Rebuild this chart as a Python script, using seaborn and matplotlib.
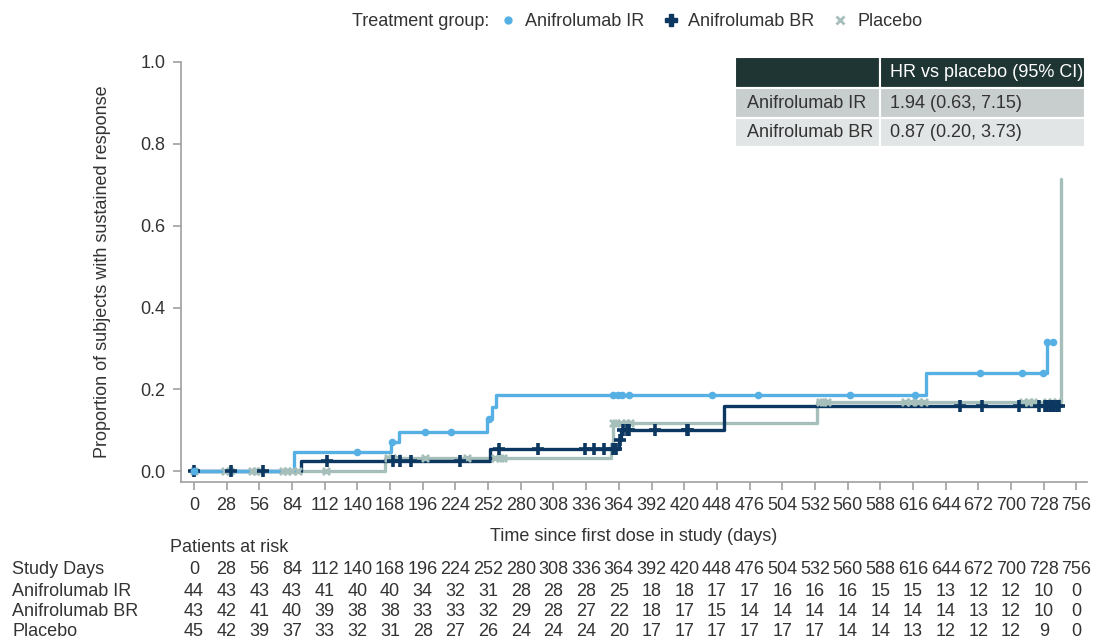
import numpy as np
import pandas as pd
import seaborn as sns
import matplotlib.pyplot as plt
from matplotlib.lines import Line2D
from matplotlib.patches import Rectangle
from matplotlib.transforms import blended_transform_factory

# step curves (day of event, cumulative proportion after it)
ir_time = [0, 86, 169, 176, 251, 255, 259, 627, 731, 738]
ir_prop = [0, 0.047, 0.072, 0.096, 0.127, 0.157, 0.186, 0.240, 0.316, 0.316]
ir_cens = [0, 140, 170, 198, 220, 253, 359, 363, 367, 373, 444, 483, 562, 618,
           673, 709, 727, 731, 736]

br_time = [0, 92, 254, 364, 366, 454, 742]
br_prop = [0, 0.025, 0.054, 0.076, 0.100, 0.160, 0.160]
br_cens = [0, 32, 59, 114, 171, 177, 186, 228, 261, 295, 335, 343, 351, 359,
           362, 365, 368, 371, 373, 395, 422, 423, 656, 675, 707, 724, 729,
           731, 733, 735, 737, 739, 741]

pl_time = [0, 164, 357, 359, 534, 743]
pl_prop = [0, 0.032, 0.068, 0.117, 0.169, 0.714]
pl_cens = [0, 27, 31, 50, 53, 57, 76, 80, 84, 89, 113, 166, 170, 174, 198, 234,
           258, 262, 265, 359, 362, 366, 370, 374, 536, 539, 542, 609, 614,
           620, 625, 710, 715, 719, 731, 735, 739]

groups = ["Anifrolumab IR", "Anifrolumab BR", "Placebo"]
colors = {"Anifrolumab IR": "#56b0e4", "Anifrolumab BR": "#0c3760", "Placebo": "#a6bfba"}

# hazard ratio table
hr_header = "HR vs placebo (95% CI)"
hr_rows = ["Anifrolumab IR", "Anifrolumab BR"]
hr_vals = ["1.94 (0.63, 7.15)", "0.87 (0.20, 3.73)"]

# patients at risk
risk_days = list(range(0, 757, 28))
risk_ir = [44, 43, 43, 43, 41, 40, 40, 34, 32, 31, 28, 28, 28, 25, 18, 18, 17, 17, 16, 16, 16, 15, 15, 13, 12, 12, 10, 0]
risk_br = [43, 42, 41, 40, 39, 38, 38, 33, 33, 32, 29, 28, 27, 22, 18, 17, 15, 14, 14, 14, 14, 14, 14, 14, 13, 12, 10, 0]
risk_pl = [45, 42, 39, 37, 33, 32, 31, 28, 27, 26, 24, 24, 24, 20, 17, 17, 17, 17, 17, 17, 14, 14, 13, 12, 12, 12, 9, 0]

sns.set_style("ticks")
plt.rcParams["font.family"] = ["Liberation Sans", "DejaVu Sans"]
txt = "#333333"
grey = "#a0a0a0"

curves = {
    "Anifrolumab IR": (ir_time, ir_prop, ir_cens),
    "Anifrolumab BR": (br_time, br_prop, br_cens),
    "Placebo": (pl_time, pl_prop, pl_cens),
}
steps = pd.concat([pd.DataFrame({"day": t, "prop": p, "group": g})
                   for g, (t, p, c) in curves.items()])

fig = plt.figure(figsize=(10.95, 6.41), dpi=100)
ax = fig.add_axes([181 / 1095, 1 - 482 / 641, 906 / 1095, 420 / 641])

order = ["Placebo", "Anifrolumab BR", "Anifrolumab IR"]
marks = {"Anifrolumab IR": dict(marker="o", s=30, linewidth=0),
         "Anifrolumab BR": dict(marker="+", s=70, linewidth=2.6),
         "Placebo": dict(marker="x", s=26, linewidth=2.0)}
for g in order:
    t, p, c = curves[g]
    sns.lineplot(data=steps[steps.group == g], x="day", y="prop", color=colors[g],
                 drawstyle="steps-post", estimator=None, sort=False, lw=2.4, ax=ax)
    idx = np.searchsorted(t, c, side="right") - 1
    cy = np.array(p)[idx]
    sns.scatterplot(x=c, y=cy, color=colors[g], ax=ax, zorder=3, **marks[g])

ax.set_xlim(-11, 765)
ax.set_ylim(-0.026, 1.0)
ax.set_xticks(risk_days)
ax.set_yticks([0, 0.2, 0.4, 0.6, 0.8, 1.0])
ax.set_yticklabels(["0.0", "0.2", "0.4", "0.6", "0.8", "1.0"])
ax.tick_params(labelsize=13, colors=grey, labelcolor=txt, length=6, width=1.2, pad=5)
for s in ["top", "right"]:
    ax.spines[s].set_visible(False)
for s in ["left", "bottom"]:
    ax.spines[s].set_color(grey)
    ax.spines[s].set_linewidth(1.2)
ax.set_xlabel("Time since first dose in study (days)", fontsize=13, color=txt, labelpad=10)
ax.set_ylabel("Proportion of subjects with sustained response", fontsize=13, color=txt, labelpad=21)

# legend across the top
fig.text(352 / 1095, 1 - 22 / 641, "Treatment group:", fontsize=13, color=txt, va="center")
handles = [Line2D([], [], ls="none", marker="o", ms=5, color=colors["Anifrolumab IR"]),
           Line2D([], [], ls="none", marker="P", ms=9, color=colors["Anifrolumab BR"]),
           Line2D([], [], ls="none", marker="x", ms=6, mew=2, color=colors["Placebo"])]
fig.legend(handles, groups, loc="center left", bbox_to_anchor=(483 / 1095, 1 - 22 / 641),
           ncol=3, frameon=False, fontsize=13, handlelength=1.0, handletextpad=0.45,
           columnspacing=0.95, labelcolor=txt)

# HR table box
tax = fig.add_axes([735 / 1095, 1 - 147 / 641, 350 / 1095, 90 / 641])
tax.set_xlim(0, 350)
tax.set_ylim(90, 0)
tax.axis("off")
row_y = [0, 31, 61, 90]
col_x = [0, 145, 350]
fills = ["#1f3533", "#c8cecd", "#e2e5e5"]
cells = [["", hr_header]] + [[r, v] for r, v in zip(hr_rows, hr_vals)]
for i in range(3):
    for j in range(2):
        tax.add_patch(Rectangle((col_x[j], row_y[i]), col_x[j + 1] - col_x[j],
                                row_y[i + 1] - row_y[i], facecolor=fills[i],
                                edgecolor="white", lw=1.5))
        tax.text(col_x[j] + (12 if j == 0 else 10), (row_y[i] + row_y[i + 1]) / 2,
                 cells[i][j], fontsize=13, va="center",
                 color="white" if i == 0 else txt)

# patients at risk table
fig.text(170 / 1095, 1 - 547 / 641, "Patients at risk", fontsize=13, color=txt, va="center")
tr = blended_transform_factory(ax.transData, fig.transFigure)
rows = [("Study Days", risk_days, 570), ("Anifrolumab IR", risk_ir, 592),
        ("Anifrolumab BR", risk_br, 612), ("Placebo", risk_pl, 632)]
for label, vals, py in rows:
    fig.text(12 / 1095, 1 - py / 641, label, fontsize=13, color=txt, va="center")
    for d, v in zip(risk_days, vals):
        ax.text(d, 1 - py / 641, str(v), transform=tr, fontsize=13, color=txt,
                ha="center", va="center", clip_on=False)

fig.savefig("out.png", dpi=100)
